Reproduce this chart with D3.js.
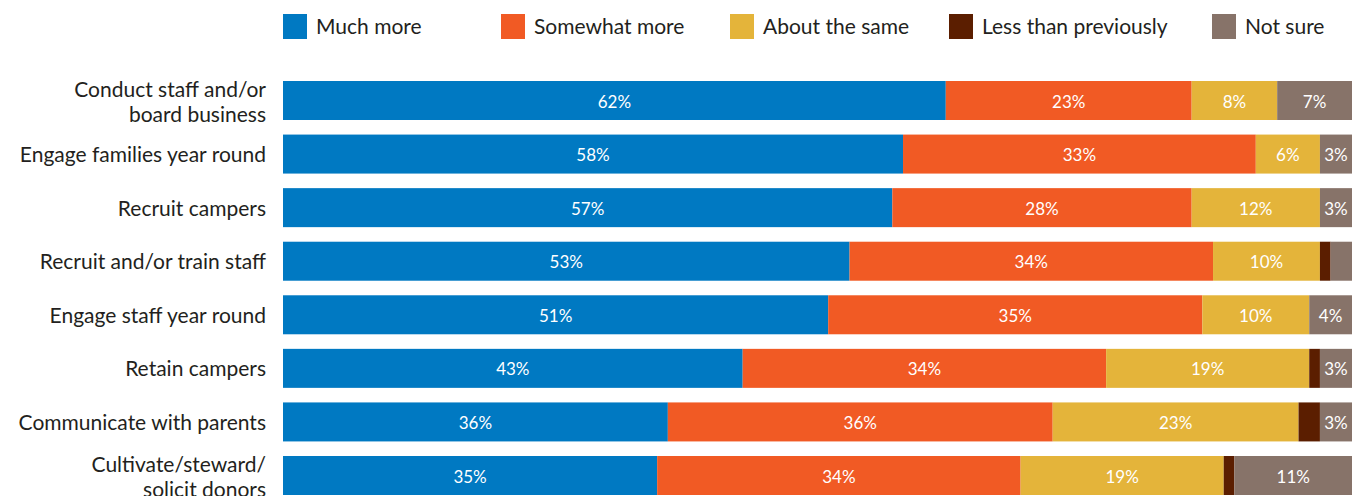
<!DOCTYPE html>
<html>
<head>
<meta charset="utf-8">
<script src="https://cdn.jsdelivr.net/npm/d3@7"></script>
<style>
  body { margin: 0; background: #fff; }
  svg text { font-family: Lato, "Open Sans", sans-serif; }
</style>
</head>
<body>
<div id="chart"></div>
<script>
// Activities, top to bottom. Two-line labels are split on "|"
var categories = [
  'Conduct staff and/or|board business',
  'Engage families year round',
  'Recruit campers',
  'Recruit and/or train staff',
  'Engage staff year round',
  'Retain campers',
  'Communicate with parents',
  'Cultivate/steward/|solicit donors'
];

var seriesNames = ['Much more', 'Somewhat more', 'About the same', 'Less than previously', 'Not sure'];
var seriesColours = ['#0079c2', '#f15a24', '#e4b43a', '#5b1e00', '#877369'];

// Percentages per series, in the same order as categories
var muchMore      = [62, 58, 57, 53, 51, 43, 36, 35];
var somewhatMore  = [23, 33, 28, 34, 35, 34, 36, 34];
var aboutSame     = [8, 6, 12, 10, 10, 19, 23, 19];
var lessThan      = [0, 0, 0, 1, 0, 1, 2, 1];
var notSure       = [7, 3, 3, 2, 4, 3, 3, 11];

function createChart() {
  var canvasWidth = 1352;
  var canvasHeight = 496;

  var svg = d3.select('#chart')
    .append('svg')
    .attr('width', canvasWidth)
    .attr('height', canvasHeight);

  var series = [muchMore, somewhatMore, aboutSame, lessThan, notSure];

  // Build a row object for each category so d3.stack can use it
  var rows = categories.map((name, i) => {
    var row = { name: name };
    seriesNames.forEach((s, j) => { row[s] = series[j][i]; });
    return row;
  });

  var stacked = d3.stack().keys(seriesNames)(rows);

  var xScale = d3.scaleLinear()
    .domain([0, 100])
    .range([283, 1352]);

  var yScale = d3.scaleBand()
    .domain(categories)
    .range([81, 495])
    .paddingInner(0.272)
    .paddingOuter(0);

  // Bars
  var layers = svg.selectAll('g.layer')
    .data(stacked)
    .enter()
    .append('g')
    .attr('class', 'layer')
    .style('fill', (d, i) => seriesColours[i]);

  layers.selectAll('rect')
    .data(d => d)
    .enter()
    .append('rect')
    .attr('x', d => xScale(d[0]))
    .attr('y', d => yScale(d.data.name))
    .attr('width', d => xScale(d[1]) - xScale(d[0]))
    .attr('height', yScale.bandwidth());

  // Value labels, only where the segment is wide enough
  layers.selectAll('text')
    .data(d => d.filter(p => p[1] - p[0] >= 3))
    .enter()
    .append('text')
    .attr('x', d => (xScale(d[0]) + xScale(d[1])) / 2)
    .attr('y', d => yScale(d.data.name) + yScale.bandwidth() / 2 + 7)
    .attr('text-anchor', 'middle')
    .style('fill', '#fff')
    .style('font-size', '17px')
    .text(d => (d[1] - d[0]) + '%');

  // Category labels
  svg.selectAll('text.cat')
    .data(categories)
    .enter()
    .append('text')
    .attr('class', 'cat')
    .attr('text-anchor', 'end')
    .style('fill', '#231f20')
    .style('font-size', '21px')
    .each(function(d) {
      var lines = d.split('|');
      var mid = yScale(d) + yScale.bandwidth() / 2;
      var el = d3.select(this);
      if(lines.length === 1) {
        el.append('tspan').attr('x', 266).attr('y', mid + 8).text(lines[0]);
      } else {
        el.append('tspan').attr('x', 266).attr('y', mid - 4).text(lines[0]);
        el.append('tspan').attr('x', 266).attr('y', mid + 21).text(lines[1]);
      }
    });

  // Legend, swatch positions follow the original layout
  var legendX = [283, 501, 730, 949, 1212];
  var legend = svg.selectAll('g.legend')
    .data(seriesNames)
    .enter()
    .append('g')
    .attr('class', 'legend')
    .attr('transform', (d, i) => 'translate(' + legendX[i] + ',14)');

  legend.append('rect')
    .attr('width', 24)
    .attr('height', 25)
    .style('fill', (d, i) => seriesColours[i]);

  legend.append('text')
    .attr('x', 33)
    .attr('y', 20)
    .style('fill', '#231f20')
    .style('font-size', '21px')
    .text(d => d);
}

window.onload = createChart;
</script>
</body>
</html>
